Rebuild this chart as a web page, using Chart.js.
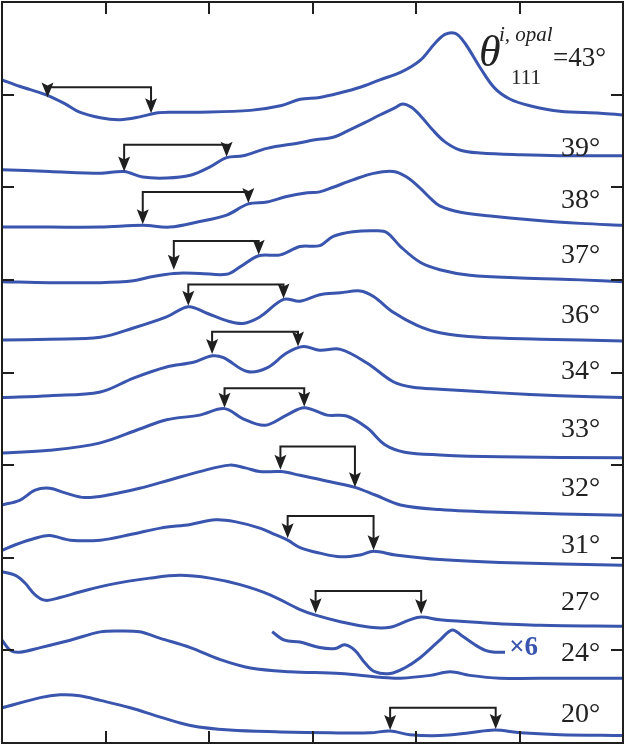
<!DOCTYPE html>
<html>
<head>
<meta charset="utf-8">
<script src="https://cdn.jsdelivr.net/npm/chart.js@4.4.1/dist/chart.umd.min.js"></script>
<style>
  html, body { margin: 0; padding: 0; background: #fff; }
  #wrap { width: 626px; height: 746px; }
</style>
</head>
<body>
<div id="wrap"><canvas id="spectraChart" width="626" height="746"></canvas></div>
<script>
// espectros deslocados (offset) por ângulo de incidência, pares [x, y]
const s43 = [[0,7.16],[0.17,7.09],[0.42,7.00],[0.61,6.90],[0.75,6.81],[0.95,6.75],[1.14,6.73],[1.33,6.76],[1.48,6.80],[1.62,6.81],[1.91,6.81],[2.40,6.83],[2.69,6.88],[2.88,6.95],[3.07,6.97],[3.27,7.02],[3.46,7.08],[3.65,7.16],[3.85,7.24],[4.04,7.37],[4.18,7.55],[4.28,7.65],[4.38,7.66],[4.47,7.56],[4.62,7.29],[4.76,7.07],[4.91,6.95],[5.10,6.88],[5.39,6.82],[5.78,6.80],[6.0,6.78]];
const s39 = [[0,6.19],[0.46,6.17],[0.95,6.15],[1.18,6.17],[1.36,6.11],[1.59,6.10],[1.82,6.13],[2.01,6.22],[2.17,6.32],[2.33,6.34],[2.56,6.42],[2.88,6.48],[3.01,6.51],[3.20,6.54],[3.36,6.62],[3.51,6.70],[3.65,6.78],[3.80,6.86],[3.87,6.90],[3.96,6.86],[4.06,6.75],[4.16,6.62],[4.28,6.49],[4.43,6.40],[4.62,6.37],[5.01,6.35],[5.39,6.34],[6.0,6.34]];
const s38 = [[0,5.57],[0.46,5.57],[0.95,5.57],[1.36,5.59],[1.62,5.57],[1.91,5.63],[2.17,5.70],[2.38,5.82],[2.56,5.84],[2.75,5.90],[2.95,5.94],[3.07,5.95],[3.20,6.00],[3.39,6.08],[3.59,6.15],[3.78,6.17],[3.91,6.11],[4.04,5.99],[4.14,5.88],[4.23,5.80],[4.43,5.73],[4.72,5.69],[5.10,5.65],[5.59,5.61],[6.0,5.59]];
const s37 = [[0,4.98],[0.46,4.97],[0.95,4.97],[1.27,4.99],[1.43,5.03],[1.66,5.07],[1.91,5.07],[2.17,5.06],[2.30,5.14],[2.48,5.26],[2.69,5.27],[2.88,5.36],[3.07,5.37],[3.20,5.47],[3.39,5.52],[3.62,5.53],[3.72,5.51],[3.85,5.36],[4.04,5.19],[4.23,5.11],[4.52,5.05],[5.01,5.02],[5.59,5.00],[6.0,4.98]];
const s36 = [[0,4.35],[0.46,4.36],[0.95,4.38],[1.27,4.48],[1.59,4.60],[1.80,4.71],[1.98,4.64],[2.17,4.56],[2.33,4.53],[2.49,4.60],[2.72,4.79],[2.88,4.77],[3.07,4.84],[3.27,4.86],[3.46,4.88],[3.59,4.82],[3.78,4.65],[4.01,4.51],[4.23,4.43],[4.62,4.38],[5.20,4.36],[6.0,4.34]];
const s34 = [[0,3.73],[0.46,3.75],[0.95,3.79],[1.27,3.94],[1.59,4.06],[1.85,4.11],[2.03,4.18],[2.14,4.16],[2.37,4.01],[2.56,4.05],[2.75,4.21],[2.91,4.28],[3.07,4.24],[3.27,4.25],[3.53,4.10],[3.78,3.90],[3.97,3.84],[4.23,3.82],[4.81,3.78],[5.39,3.75],[6.0,3.73]];
const s33 = [[0,3.13],[0.46,3.16],[0.95,3.24],[1.33,3.39],[1.59,3.49],[1.91,3.54],[2.15,3.61],[2.33,3.50],[2.54,3.43],[2.75,3.54],[2.92,3.62],[3.14,3.54],[3.33,3.53],[3.53,3.40],[3.70,3.22],[3.89,3.14],[4.23,3.11],[4.81,3.09],[6.0,3.08]];
const s32 = [[0,2.57],[0.17,2.62],[0.32,2.73],[0.46,2.75],[0.61,2.70],[0.80,2.65],[1.04,2.68],[1.33,2.75],[1.62,2.84],[1.91,2.93],[2.20,3.00],[2.35,2.97],[2.49,2.93],[2.69,2.93],[2.88,2.89],[3.17,2.82],[3.41,2.76],[3.60,2.68],[3.85,2.57],[4.23,2.52],[4.81,2.49],[6.0,2.46]];
const s31 = [[0,2.08],[0.13,2.14],[0.32,2.21],[0.46,2.24],[0.66,2.19],[0.95,2.19],[1.24,2.25],[1.53,2.32],[1.82,2.36],[2.06,2.41],[2.25,2.39],[2.49,2.32],[2.64,2.25],[2.76,2.19],[2.88,2.11],[3.07,2.05],[3.27,2.01],[3.46,2.03],[3.59,2.07],[3.80,2.03],[4.23,1.98],[4.81,1.95],[6.0,1.92]];
const s27 = [[0,1.85],[0.13,1.81],[0.22,1.73],[0.32,1.60],[0.42,1.54],[0.56,1.57],[0.75,1.63],[1.04,1.71],[1.43,1.78],[1.72,1.81],[2.01,1.78],[2.30,1.71],[2.59,1.60],[2.88,1.44],[3.03,1.38],[3.27,1.31],[3.56,1.25],[3.75,1.25],[3.94,1.33],[4.05,1.36],[4.23,1.33],[4.62,1.30],[5.20,1.27],[6.0,1.26]];
const s24 = [[0,1.11],[0.08,1.00],[0.17,0.98],[0.37,1.03],[0.66,1.11],[0.95,1.20],[1.14,1.21],[1.33,1.20],[1.53,1.13],[1.82,1.03],[2.11,0.90],[2.40,0.81],[2.78,0.77],[3.27,0.75],[3.65,0.71],[3.85,0.70],[4.14,0.73],[4.33,0.77],[4.52,0.73],[4.81,0.70],[5.39,0.70],[6.0,0.70]];
const s24x6 = [[2.61,1.20],[2.73,1.11],[2.88,1.09],[3.07,1.03],[3.22,1.02],[3.31,1.06],[3.41,1.00],[3.51,0.86],[3.60,0.77],[3.75,0.75],[3.89,0.81],[4.04,0.92],[4.23,1.11],[4.35,1.22],[4.44,1.16],[4.57,1.06],[4.67,1.00],[4.76,0.98],[4.86,0.98]];
const s20 = [[0,0.38],[0.37,0.49],[0.56,0.52],[0.75,0.51],[0.95,0.46],[1.24,0.38],[1.53,0.28],[1.82,0.19],[2.20,0.14],[2.69,0.12],[3.17,0.11],[3.56,0.11],[3.75,0.13],[3.94,0.09],[4.23,0.08],[4.52,0.11],[4.76,0.14],[5.01,0.11],[5.39,0.09],[6.0,0.08]];

const curves = [s43, s39, s38, s37, s36, s34, s33, s32, s31, s27, s24, s20];

// rótulos dos ângulos
const angleLabels = ['39°', '38°', '37°', '36°', '34°', '33°', '32°', '31°', '27°', '24°', '20°'];
const angleLabelY = [6.42, 5.86, 5.26, 4.61, 4.01, 3.38, 2.75, 2.13, 1.51, 0.96, 0.31];

// colchetes com setas (posição em x e y nas unidades do gráfico)
const bracketLeftX   = [0.44, 1.18, 1.36, 1.66, 1.80, 2.03, 2.15, 2.69, 2.76, 3.03, 3.75];
const bracketRightX  = [1.44, 2.17, 2.38, 2.48, 2.72, 2.86, 2.92, 3.41, 3.59, 4.05, 4.77];
const bracketBarY    = [7.08, 6.46, 5.95, 5.42, 4.95, 4.44, 3.83, 3.20, 2.45, 1.64, 0.38];
const bracketLeftTip = [6.97, 6.17, 5.60, 5.11, 4.72, 4.20, 3.62, 2.95, 2.21, 1.40, 0.14];
const bracketRightTip= [6.80, 6.33, 5.83, 5.27, 4.80, 4.28, 3.63, 2.76, 2.08, 1.39, 0.15];

const xTicks = [1, 2, 3, 4, 5];
const yTicks = [1, 2, 3, 4, 5, 6, 7];

const BLUE = '#3a55ad';
const INK = '#1f1f1f';

function toXY(arr) { return arr.map(p => ({ x: p[0], y: p[1] })); }

const datasets = curves.concat([s24x6]).map(c => ({
    data: toXY(c),
    borderColor: BLUE,
    borderWidth: 3,
    pointRadius: 0,
    tension: 0.35,
    fill: false,
}));

// moldura, ticks internos, colchetes e textos
const decorations = {
    id: 'decorations',
    afterDatasetsDraw(chart) {
        const { ctx, chartArea: a, scales: { x, y } } = chart;
        ctx.save();

        // colchetes
        ctx.strokeStyle = INK;
        ctx.fillStyle = INK;
        ctx.lineWidth = 2;
        for (let i = 0; i < bracketLeftX.length; i++) {
            const xl = x.getPixelForValue(bracketLeftX[i]);
            const xr = x.getPixelForValue(bracketRightX[i]);
            const yb = y.getPixelForValue(bracketBarY[i]);
            const yl = y.getPixelForValue(bracketLeftTip[i]);
            const yr = y.getPixelForValue(bracketRightTip[i]);
            ctx.beginPath();
            ctx.moveTo(xl, yl - 10);
            ctx.lineTo(xl, yb);
            ctx.lineTo(xr, yb);
            ctx.lineTo(xr, yr - 10);
            ctx.stroke();
            [[xl, yl], [xr, yr]].forEach(([px, py]) => {
                ctx.beginPath();
                ctx.moveTo(px, py);
                ctx.lineTo(px - 6, py - 15);
                ctx.lineTo(px, py - 12);
                ctx.lineTo(px + 6, py - 15);
                ctx.closePath();
                ctx.fill();
            });
        }

        // rótulos de ângulo
        ctx.fillStyle = '#222';
        ctx.font = '28px "Liberation Serif", serif';
        ctx.textBaseline = 'middle';
        ctx.textAlign = 'left';
        angleLabels.forEach((t, i) => {
            ctx.fillText(t, 561, y.getPixelForValue(angleLabelY[i]));
        });

        // θ^{i, opal}_{111} = 43°
        ctx.textBaseline = 'alphabetic';
        ctx.font = 'italic 44px "Liberation Serif", serif';
        ctx.fillText('θ', 479, 66);
        ctx.font = 'italic 21px "Liberation Serif", serif';
        ctx.fillText('i, opal', 499, 41);
        ctx.font = '21px "Liberation Serif", serif';
        ctx.fillText('111', 511, 84);
        ctx.font = '27px "Liberation Serif", serif';
        ctx.fillText('=43°', 553, 66);

        // ×6
        ctx.fillStyle = BLUE;
        ctx.font = 'bold 27px "Liberation Serif", serif';
        ctx.textBaseline = 'middle';
        ctx.fillText('×6', x.getPixelForValue(4.9), y.getPixelForValue(1.02));

        // ticks internos
        ctx.strokeStyle = INK;
        ctx.lineWidth = 2;
        const len = 12;
        xTicks.forEach(v => {
            const px = Math.round(x.getPixelForValue(v));
            ctx.beginPath();
            ctx.moveTo(px, a.top); ctx.lineTo(px, a.top + len);
            ctx.moveTo(px, a.bottom); ctx.lineTo(px, a.bottom - len);
            ctx.stroke();
        });
        yTicks.forEach(v => {
            const py = Math.round(y.getPixelForValue(v));
            ctx.beginPath();
            ctx.moveTo(a.left, py); ctx.lineTo(a.left + len, py);
            ctx.moveTo(a.right, py); ctx.lineTo(a.right - len, py);
            ctx.stroke();
        });

        // moldura
        ctx.strokeRect(a.left, a.top, a.right - a.left, a.bottom - a.top);
        ctx.restore();
    }
};

const ctx = document.getElementById('spectraChart').getContext('2d');
const spectraChart = new Chart(ctx, {
    type: 'line',
    data: { datasets: datasets },
    options: {
        responsive: false,
        animation: false,
        layout: { padding: { left: 2, top: 2, right: 3, bottom: 3 } },
        plugins: {
            legend: { display: false },
            tooltip: { enabled: false }
        },
        scales: {
            x: { type: 'linear', min: 0, max: 6, display: false },
            y: { type: 'linear', min: 0, max: 8, display: false }
        }
    },
    plugins: [decorations]
});
</script>
</body>
</html>
